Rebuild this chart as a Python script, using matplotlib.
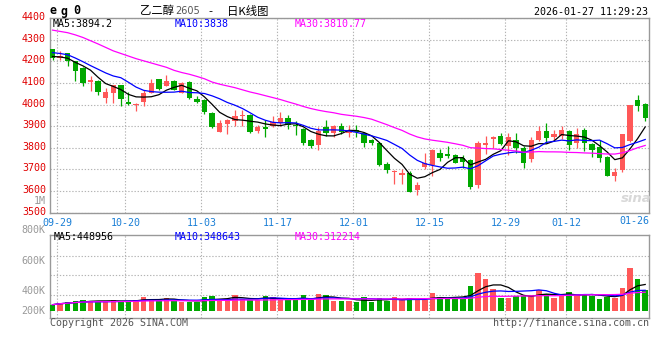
import numpy as np
import pandas as pd
import matplotlib
matplotlib.use('Agg')
import matplotlib.pyplot as plt
from matplotlib.transforms import ScaledTranslation

## Data (79 trading days, 09-29 .. 01-27)
tick_idx = [0, 9, 19, 29, 39, 49, 59, 67, 77]
tick_lbl = ['09-29', '10-20', '11-03', '11-17', '12-01', '12-15', '12-29', '01-12', '01-26']

opens = [4255, 4213, 4236, 4200, 4168, 4103, 4110, 4029, 4055, 4090,
         4014, 3998, 4014, 4055, 4116, 4087, 4108, 4055, 4104, 4026,
         4022, 3961, 3875, 3911, 3922, 3945, 3953, 3876, 3894, 3903,
         3915, 3940, 3907, 3887, 3834, 3811, 3896, 3869, 3899, 3870,
         3881, 3869, 3838, 3823, 3723, 3690, 3673, 3682, 3606, 3710,
         3720, 3774, 3770, 3765, 3754, 3742, 3627, 3812, 3841, 3856,
         3807, 3834, 3800, 3746, 3838, 3879, 3851, 3853, 3879, 3823,
         3884, 3818, 3803, 3757, 3670, 3697, 3830, 4022, 4003]
highs = [4258, 4246, 4240, 4203, 4172, 4132, 4113, 4075, 4092, 4092,
         4060, 4008, 4068, 4118, 4118, 4136, 4112, 4103, 4108, 4041,
         4025, 3967, 3930, 3935, 3976, 3976, 3956, 3905, 3930, 3948,
         3965, 3953, 3925, 3890, 3841, 3896, 3927, 3905, 3915, 3904,
         3907, 3872, 3840, 3826, 3734, 3696, 3704, 3692, 3640, 3778,
         3796, 3796, 3808, 3770, 3769, 3746, 3830, 3853, 3853, 3869,
         3869, 3869, 3808, 3849, 3902, 3915, 3884, 3902, 3882, 3892,
         3892, 3823, 3838, 3760, 3708, 3862, 4000, 4045, 4005]
lows = [4208, 4205, 4180, 4108, 4086, 4064, 4045, 4006, 4006, 3991,
        4000, 3968, 3992, 4052, 4068, 4085, 4065, 4052, 4025, 4006,
        3957, 3890, 3872, 3864, 3902, 3902, 3868, 3869, 3849, 3898,
        3900, 3885, 3861, 3815, 3797, 3788, 3853, 3849, 3862, 3850,
        3849, 3803, 3811, 3718, 3685, 3632, 3632, 3594, 3583, 3700,
        3670, 3740, 3754, 3728, 3708, 3609, 3612, 3772, 3800, 3812,
        3769, 3777, 3708, 3734, 3830, 3823, 3830, 3841, 3792, 3800,
        3785, 3759, 3734, 3668, 3647, 3690, 3826, 3968, 3922]
closes = [4213, 4225, 4202, 4156, 4098, 4113, 4060, 4057, 4090, 4025,
          4002, 4003, 4052, 4098, 4072, 4108, 4067, 4100, 4028, 4014,
          3967, 3896, 3915, 3930, 3945, 3953, 3872, 3894, 3888, 3919,
          3940, 3907, 3901, 3820, 3808, 3879, 3869, 3899, 3873, 3884,
          3874, 3823, 3823, 3720, 3697, 3694, 3682, 3597, 3627, 3732,
          3789, 3755, 3762, 3732, 3735, 3620, 3823, 3823, 3849, 3818,
          3849, 3800, 3731, 3838, 3879, 3843, 3866, 3881, 3815, 3866,
          3820, 3792, 3754, 3670, 3690, 3862, 3999, 3991, 3940]
# volume in thousand lots
vols = [106, 139, 151, 173, 184, 168, 168, 154, 184, 168,
        168, 184, 235, 202, 173, 218, 173, 154, 154, 154,
        235, 252, 202, 192, 269, 202, 184, 184, 252, 235,
        184, 184, 184, 269, 184, 285, 269, 168, 173, 173,
        156, 235, 156, 218, 173, 240, 184, 218, 184, 184,
        307, 235, 202, 218, 218, 425, 638, 538, 370, 218,
        218, 257, 257, 269, 352, 285, 218, 257, 319, 269,
        285, 257, 202, 240, 224, 386, 728, 538, 352]

# moving averages at the left edge (history before 09-29 is not shown)
ma5_head = [4222, 4220, 4214, 4195]
ma10_head = [4240, 4236, 4230, 4215, 4198, 4180, 4163, 4146, 4132]
ma30_head = [4344, 4338, 4332, 4322, 4310, 4295, 4280, 4264, 4248, 4236,
             4224, 4212, 4202, 4192, 4182, 4172, 4158, 4148, 4140, 4130,
             4119, 4104, 4094, 4086, 4078, 4068, 4058, 4050, 4041]


def moving(vals, n, head):
    m = pd.Series(vals, dtype=float).rolling(n).mean().to_numpy()
    m[:len(head)] = head
    return m


ma5 = moving(closes, 5, ma5_head)
ma10 = moving(closes, 10, ma10_head)
ma30 = moving(closes, 30, ma30_head)
vs = pd.Series(vols, dtype=float)
vma5 = vs.rolling(5, min_periods=1).mean()
vma10 = vs.rolling(10, min_periods=1).mean()
vma30 = vs.rolling(30, min_periods=1).mean()

##-------------------------------------------------------------------------
## Plot
##-------------------------------------------------------------------------
W, H = 660, 360
RED, GREEN = '#ff5858', '#00a800'
GRID = '#b4b4b4'
MONO = 'DejaVu Sans Mono'


def fx(x):
    return x / W


def fy(y):
    return 1 - y / H


fig = plt.figure(figsize=(6.6, 3.6), dpi=100)
ax = fig.add_axes([fx(50), fy(212.7), fx(649) - fx(50), fy(18) - fy(212.7)])
axv = fig.add_axes([fx(50), fy(318), fx(649) - fx(50), fy(235) - fy(318)])

x = np.arange(len(closes))
colors = [RED if c >= o else GREEN for o, c in zip(opens, closes)]
body = [max(abs(c - o), 1.5) for o, c in zip(opens, closes)]
bottom = [min(o, c) for o, c in zip(opens, closes)]

ax.vlines(x, lows, highs, colors=colors, lw=0.9, zorder=3)
ax.bar(x, body, bottom=bottom, width=0.7, color=colors, zorder=3)
ax.plot(x, ma5, color='black', lw=0.9, zorder=4)
ax.plot(x, ma10, color='#0000ff', lw=0.9, zorder=4)
ax.plot(x, ma30, color='#ff00ff', lw=0.9, zorder=4)

axv.bar(x, vols, width=0.72, color=colors, zorder=3)
axv.plot(x, vma5, color='black', lw=0.9, zorder=4)
axv.plot(x, vma10, color='#0000ff', lw=0.9, zorder=4)
axv.plot(x, vma30, color='#ff00ff', lw=0.9, zorder=4)

xlim = (-0.33, 78.5)
grid_x = [i + 0.6 for i in tick_idx[:-1]]
for a in (ax, axv):
    a.set_xlim(*xlim)
    for s in a.spines.values():
        s.set_color('#999999')
        s.set_linewidth(1.0)
    a.tick_params(length=0)
    a.set_xticks(grid_x)
    a.grid(True, color=GRID, lw=0.8, linestyle=(0, (1.2, 1.6)), zorder=0)

ax.set_ylim(3500, 4400)
ax.set_yticks(range(3500, 4401, 100))
ax.set_yticklabels([str(v) for v in range(3500, 4401, 100)], color='#e00000',
                   fontsize=7.2, family=MONO)
ax.tick_params(axis='y', pad=3)
# price labels sit a little above their grid lines
lift = ScaledTranslation(0, 2.0 / 100, fig.dpi_scale_trans)
for lbl in ax.get_yticklabels():
    lbl.set_transform(lbl.get_transform() + lift)
ax.set_xticklabels(tick_lbl[:-1], color='#1a7fd6', fontsize=7.2, family=MONO)
ax.tick_params(axis='x', pad=4)
ax.text(1.0, -0.043, tick_lbl[-1], transform=ax.transAxes, ha='right', va='center',
        color='#1a7fd6', fontsize=7.2, family=MONO)

vmin, vmax = -117.6, 1276.8
axv.set_ylim(vmin, vmax)
axv.set_yticks([vmin + f * (vmax - vmin) for f in (0.273, 0.514, 0.75)])
axv.set_yticklabels([])
axv.set_xticklabels([])

# header
for ch, cx in zip('eg0', (52.7, 64.2, 76.3)):
    fig.text(fx(cx), fy(11), ch, ha='center', va='center', fontsize=8.4,
             family=MONO, weight='bold')
fig.text(fx(140), fy(11), '乙二醇', ha='left', va='center', fontsize=8.2,
         family=['Noto Sans CJK SC', 'DejaVu Sans'])
fig.text(fx(175.5), fy(11.5), '2605', ha='left', va='center', fontsize=7,
         color='#555555')
fig.text(fx(210), fy(11), '-', ha='center', va='center', fontsize=8)
fig.text(fx(227), fy(11), '日K线图', ha='left', va='center', fontsize=8.2,
         family=['Noto Sans CJK SC', 'DejaVu Sans'])
fig.text(fx(648), fy(11.7), '2026-01-27 11:29:23', ha='right', va='center',
         fontsize=7.2, family=MONO)

# MA legends
for txt, px, col in (('MA5:3894.2', 53, 'black'), ('MA10:3838', 175, '#0000ff'),
                     ('MA30:3810.77', 295, '#ff00ff')):
    fig.text(fx(px), fy(24), txt, ha='left', va='center', fontsize=7.2,
             family=MONO, color=col)
for txt, px, col in (('MA5:448956', 54, 'black'), ('MA10:348643', 175, '#0000ff'),
                     ('MA30:312214', 295, '#ff00ff')):
    fig.text(fx(px), fy(237.3), txt, ha='left', va='center', fontsize=7.2,
             family=MONO, color=col)

# volume scale labels (grey, left side)
for txt, py in (('1M', 201), ('800K', 230), ('600K', 260.7), ('400K', 290.7),
                ('200K', 310.7)):
    fig.text(fx(45.7), fy(py), txt, ha='right', va='center', fontsize=7.2,
             family=MONO, color='#999999')

fig.text(fx(50), fy(323.3), 'Copyright 2026 SINA.COM', ha='left', va='center',
         fontsize=7.2, family=MONO, color='#555555')
fig.text(fx(649), fy(323.3), 'http://finance.sina.com.cn', ha='right', va='center',
         fontsize=7.2, family=MONO, color='#555555')
fig.text(fx(636), fy(198), 'sina', ha='center', va='center', fontsize=9.5,
         style='italic', weight='bold', color='#d8d8d8')

fig.savefig('out.png', dpi=100)
